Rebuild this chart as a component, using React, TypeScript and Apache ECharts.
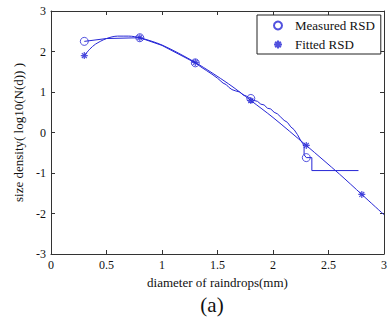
import React, { useEffect, useRef } from "react";
import * as echarts from "echarts";

// Measured RSD curve (dense, jagged trace)
const measuredX = [0.3, 0.5, 0.8, 1.0, 1.3, 1.35, 1.4, 1.45, 1.5, 1.55, 1.58, 1.6, 1.63, 1.66, 1.7, 1.73, 1.76, 1.8, 1.83, 1.86, 1.89, 1.92, 1.95, 1.98, 2.01, 2.04, 2.07, 2.1, 2.13, 2.16, 2.19, 2.22, 2.25, 2.27, 2.28, 2.28, 2.3, 2.35, 2.35, 2.77];
const measuredY = [2.25, 2.32, 2.34, 2.15, 1.72, 1.62, 1.53, 1.44, 1.34, 1.22, 1.18, 1.12, 1.06, 1.03, 1.0, 0.93, 0.9, 0.84, 0.79, 0.77, 0.7, 0.68, 0.6, 0.58, 0.5, 0.46, 0.38, 0.3, 0.25, 0.14, 0.07, -0.05, -0.2, -0.28, -0.35, -0.55, -0.62, -0.62, -0.94, -0.94];

// Measured RSD markers
const measuredMarkX = [0.3, 0.8, 1.3, 1.8, 2.3];
const measuredMarkY = [2.25, 2.34, 1.72, 0.84, -0.62];

// Fitted RSD curve
const fittedX = [0.3, 0.35, 0.4, 0.5, 0.6, 0.7, 0.8, 1.0, 1.3, 1.6, 1.8, 2.0, 2.3, 2.6, 2.8, 3.0];
const fittedY = [1.9, 2.06, 2.18, 2.32, 2.38, 2.38, 2.34, 2.16, 1.73, 1.2, 0.79, 0.37, -0.32, -1.03, -1.53, -2.03];

// Fitted RSD markers
const fittedMarkX = [0.3, 0.8, 1.3, 1.8, 2.3, 2.8];
const fittedMarkY = [1.9, 2.34, 1.73, 0.79, -0.32, -1.53];

const xTicks = { min: 0, max: 3, interval: 0.5 };
const yTicks = { min: -3, max: 3, interval: 1 };

const BLUE = "#2626d6";
const AXIS = "#333333";
const FONT = "Liberation Serif";
const STAR = "path://M5,0L5,10M0,5L10,5M1.5,1.5L8.5,8.5M1.5,8.5L8.5,1.5";

const zip = (xs: number[], ys: number[]) => xs.map((x, i) => [x, ys[i]]);

export default function App() {
  const ref = useRef<HTMLDivElement>(null);
  useEffect(() => {
    if (!ref.current) return;
    const chart = echarts.init(ref.current, null, { renderer: "svg" });
    const axisLine = { show: true, onZero: false, lineStyle: { color: AXIS, width: 1 } };
    const tick = { show: true, inside: true, length: 4, lineStyle: { color: AXIS } };
    chart.setOption({
      animation: false,
      textStyle: { fontFamily: FONT },
      grid: { left: 51, right: 5, top: 11, bottom: 68 },
      legend: {
        orient: "vertical",
        left: 257,
        top: 15,
        data: ["Measured RSD", "Fitted RSD"],
        borderColor: "#222",
        borderWidth: 1,
        backgroundColor: "#fff",
        padding: [4, 6, 3, 16],
        itemWidth: 8,
        itemHeight: 8,
        itemGap: 6,
        textStyle: { fontFamily: FONT, fontSize: 13, color: "#111", padding: [0, 0, 0, 8] },
      },
      xAxis: [
        {
          type: "value",
          position: "bottom",
          ...xTicks,
          axisLine,
          axisTick: tick,
          splitLine: { show: false },
          axisLabel: { color: "#111", fontSize: 12, fontFamily: FONT, margin: 5 },
          name: "diameter of raindrops(mm)",
          nameLocation: "middle",
          nameGap: 18,
          nameTextStyle: { color: "#111", fontSize: 13, fontFamily: FONT },
        },
        {
          type: "value",
          position: "top",
          ...xTicks,
          axisLine,
          axisTick: tick,
          splitLine: { show: false },
          axisLabel: { show: false },
        },
      ],
      yAxis: [
        {
          type: "value",
          position: "left",
          ...yTicks,
          axisLine,
          axisTick: tick,
          splitLine: { show: false },
          axisLabel: { color: "#111", fontSize: 12, fontFamily: FONT, margin: 5 },
          name: "size density( log10(N(d)) )",
          nameLocation: "middle",
          nameGap: 20,
          nameRotate: 90,
          nameTextStyle: { color: "#111", fontSize: 13, fontFamily: FONT },
        },
        {
          type: "value",
          position: "right",
          ...yTicks,
          axisLine,
          axisTick: tick,
          splitLine: { show: false },
          axisLabel: { show: false },
        },
      ],
      series: [
        {
          type: "line",
          name: "measuredLine",
          data: zip(measuredX, measuredY),
          showSymbol: false,
          symbol: "none",
          lineStyle: { color: BLUE, width: 1 },
          z: 2,
        },
        {
          type: "line",
          name: "fittedLine",
          data: zip(fittedX, fittedY),
          smooth: 0.3,
          showSymbol: false,
          symbol: "none",
          lineStyle: { color: BLUE, width: 1 },
          z: 2,
        },
        {
          type: "scatter",
          name: "Measured RSD",
          data: zip(measuredMarkX, measuredMarkY),
          symbol: "circle",
          symbolSize: 8,
          itemStyle: { color: "transparent", borderColor: BLUE, borderWidth: 1 },
          z: 3,
        },
        {
          type: "scatter",
          name: "Fitted RSD",
          data: zip(fittedMarkX, fittedMarkY),
          symbol: STAR,
          symbolSize: 7,
          itemStyle: { color: BLUE, borderColor: BLUE, borderWidth: 1.2 },
          z: 3,
        },
      ],
      graphic: [
        {
          type: "text",
          x: 212,
          y: 305,
          style: {
            text: "(a)",
            fontFamily: FONT,
            fontSize: 21,
            fill: "#111",
            align: "center",
            verticalAlign: "middle",
          },
        },
      ],
    });
    return () => chart.dispose();
  }, []);
  return <div ref={ref} style={{ width: 390, height: 322, position: "absolute", left: 0, top: 0 }} />;
}
